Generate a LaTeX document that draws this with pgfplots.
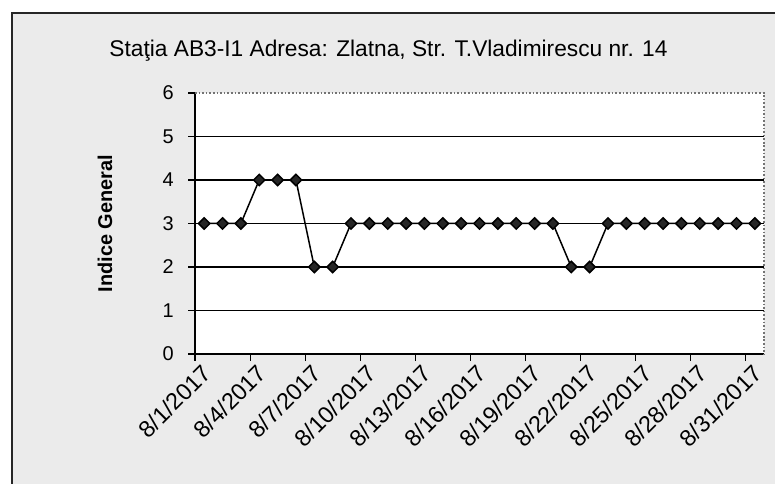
\documentclass[border=0pt]{standalone}
\usepackage{fontspec}
\setmainfont{Liberation Sans}
\usepackage{pgfplots}
\pgfplotsset{compat=1.18}
\definecolor{chartbg}{HTML}{EBEBEB}
\begin{document}
\begin{tikzpicture}[x=1bp,y=1bp]
\path[use as bounding box] (0,0) rectangle (775,484);
\fill[white] (0,0) rectangle (775,484);
\draw[line width=1.8bp, fill=chartbg, draw=black!85] (12,-20) rectangle (800,471);
\begin{axis}[
  at={(195bp,130bp)}, anchor=south west,
  scale only axis, width=569bp, height=261bp,
  xmin=0.5, xmax=31.5, ymin=0, ymax=6,
  axis x line*=bottom, axis y line*=left,
  axis line style={-, line width=1.4bp, black},
  axis background/.style={fill=white},
  tick align=outside, major tick length=7bp,
  tick style={black, line width=1.1bp},
  xtick={0.5,3.5,...,30.5},
  xticklabels={8/1/2017,8/4/2017,8/7/2017,8/10/2017,8/13/2017,8/16/2017,8/19/2017,8/22/2017,8/25/2017,8/28/2017,8/31/2017},
  every x tick label/.append style={xshift=12bp, yshift=-8bp, rotate=45, anchor=east, inner sep=0pt, font=\fontsize{23.5}{23.5}\selectfont},
  ytick={0,...,5}, extra y ticks={6}, extra y tick style={grid=none},
  ymajorgrids, grid style={black, line width=1.1bp},
  every y tick label/.append style={xshift=-14bp, inner sep=0pt, font=\fontsize{20}{20}\selectfont},
  /pgf/number format/assume math mode=true,
  ylabel={\bfseries Indice General},
  every axis y label/.style={at={(rel axis cs:0,0.5)}, xshift=-90bp, rotate=90, anchor=center, font=\fontsize{20}{20}\selectfont},
  title={Sta\c{t}ia AB3-I1 Adresa: Zlatna, Str. T.Vladimirescu nr. 14},
  title style={at={(rel axis cs:0.5,1)}, anchor=center, xshift=-91bp, yshift=36bp, font=\fontsize{22.8}{22.8}\selectfont},
  after end axis/.code={\draw[black!55, dotted, line width=1.6bp] (rel axis cs:0,1) -- (rel axis cs:1,1) -- (rel axis cs:1,0);},
]
\addplot[black, line width=1.5bp, mark=square*, mark size=4bp, mark options={rotate=45, fill=black!85, draw=black, solid}] table {
x y
1 3
2 3
3 3
4 4
5 4
6 4
7 2
8 2
9 3
10 3
11 3
12 3
13 3
14 3
15 3
16 3
17 3
18 3
19 3
20 3
21 2
22 2
23 3
24 3
25 3
26 3
27 3
28 3
29 3
30 3
31 3
};
\end{axis}
\end{tikzpicture}
\end{document}
